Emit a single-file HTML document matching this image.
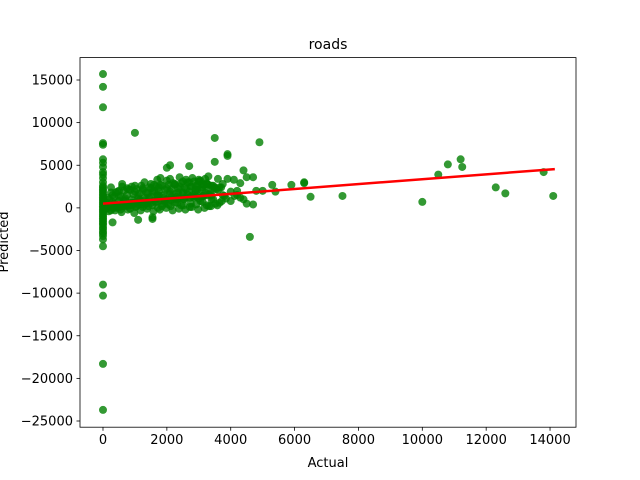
<!DOCTYPE html>
<html><head><meta charset="utf-8"><style>
body{margin:0;background:#fff;}
svg{display:block;font-family:"DejaVu Sans","Liberation Sans",sans-serif;}
</style></head><body>
<svg id="chart" width="640" height="480" viewBox="0 0 640 480">
<rect width="640" height="480" fill="#fff"/>
<text x="328" y="49" font-size="14" text-anchor="middle">roads</text>
<g id="plot"></g>
<g id="axes"></g>
<text x="328" y="467" font-size="13" text-anchor="middle">Actual</text>
<text x="0" y="0" font-size="13" text-anchor="middle" transform="translate(8,242) rotate(-90)">Predicted</text>
</svg>
<script>
const actual = [0,0,0,0,0,0,0,0,0,0,0,0,0,0,0,0,0,0,0,0,0,0,0,0,0,0,0,0,0,0,0,0,0,
0,0,0,0,0,0,0,0,0,0,0,0,0,0,
1000,3500,3900,3900,4900,3500,2700,2100,2000,4600,300,1100,1550,1550,10000,10500,10800,11200,11250,12300,12600,13800,14100,7500,6500,6300,6300,5900,5400,5300,5000,4700,4500,4400,4500,4700,4300,4200,4000,3900,4100,3600,3300,3200,3100,2900,1800,1600,4800,4400,4200,
150,250,350,450,550,650,750,850,950,1050,1150,1250,1350,1450,1550,1650,1750,1850,1950,2050,2150,2250,2350,2450,2550,2650,2750,2850,2950,3050,3150,3250,3350,3450,3550,3650,3750,3850,
200,300,400,500,600,700,800,900,1000,1100,1200,1300,1400,1500,1600,1700,1800,1900,2000,2100,2200,2300,2400,2500,2600,2700,2800,2900,3000,3100,3200,3300,3400,3600,3800,
180,380,580,780,980,1180,1380,1580,1780,1980,2180,2380,2580,2780,2980,3180,3380,3580,
250,500,750,1000,1250,1500,1750,2000,2250,2500,2750,3000,3250,3500,3750,4000,
120,420,620,820,1020,1220,1420,1720,1920,2120,2320,2520,2720,2920,3120,3320,3520,3720,4120,4300,
600,900,1300,1700,2100,2400,2600,2800,3000,3400,
100,300,500,700,900,1100,1300,1500,1700,1900,2100,2300,2500,2700,2900,3100,3300,3500,3700,
200,400,600,800,1000,1200,1400,1600,1800,2000,2200,2400,2600,2800,3000,3200,3400,
150,350,550,750,950,1150,1350,1550,1750,1950,2150,2350,2550,2750,2950,3150,
250,450,650,850,1050,1250,1450,1650,1850,2050,2250,2450,2650,2850,3050,3250,3450,3650,
120,320,520,720,920,1120,1320,1520,1720,1920,2120,2320,2520,2720,2920,3120,3320];
const predicted = [15700,14200,11800,7600,7400,5700,5300,4800,4200,3900,3500,3000,2600,2200,1800,1400,1000,600,200,-200,-600,-1000,-1400,-1800,-2300,-2800,-3300,-3700,-4500,-9000,-10300,-18300,-23700,
2400,2000,1600,1200,800,400,0,-400,-800,-1200,-1600,-2000,-2500,-3000,
8800,8200,6300,6100,7700,5400,4900,5000,4700,-3400,-1700,-1400,-1300,-1100,700,3900,5100,5700,4800,2400,1700,4200,1400,1400,1300,2900,3000,2700,1900,2700,2000,400,500,4400,3600,3600,2900,2000,800,3400,3300,3400,3700,3400,2800,2200,3500,2700,2000,1000,1500,
200,-300,500,100,-200,800,300,-100,600,200,900,100,500,1200,300,700,1500,200,900,400,1300,600,1800,300,1000,1600,500,1200,2100,800,1400,300,1700,1000,2200,600,1500,1100,
1000,1500,1800,1300,2500,1100,2200,600,1900,1400,2600,900,1700,2300,2000,1500,2700,1200,2300,1900,2900,1300,2500,1700,2200,3000,1500,2600,1100,2400,1800,2700,1000,2100,1400,
-400,-300,-500,-200,-600,-300,-100,-400,-200,0,-300,-100,-200,100,-200,0,200,300,
2400,2000,2300,2600,2100,2800,2400,3200,2700,3100,2500,3300,2900,2400,2800,1900,
0,0,200,300,100,400,200,0,500,200,600,300,100,400,700,200,500,800,1400,1200,
2800,2500,3000,3300,3400,3600,3300,3500,3100,2600,
600,700,800,900,1000,1100,1200,1300,1400,1500,1600,1700,1800,1900,2000,2100,2200,2300,2400,
300,400,450,550,600,700,750,850,900,1000,1050,1150,1200,1300,1350,1450,1500,
1200,1300,1400,1500,1600,1700,1800,1900,2000,2100,2200,2300,2400,2500,2600,2700,
1800,1900,2000,2100,2200,2300,2400,2500,2600,2700,2800,2900,3000,3100,3200,2800,2600,2400,
-100,0,100,200,300,400,500,600,700,800,900,1000,1100,1200,1300,1400,1500];
const xTicks = [0,2000,4000,6000,8000,10000,12000,14000];
const yTicks = [15000,10000,5000,0,-5000,-10000,-15000,-20000,-25000];
const fitLine = [[0,500],[14150,4550]];

const L=80,R=576,T=57.6,B=427.2;
const xMin=-720,xMax=14813,yMin=-25727,yMax=17628;
const sx=v=>L+(v-xMin)/(xMax-xMin)*(R-L);
const sy=v=>B-(v-yMin)/(yMax-yMin)*(B-T);
const NS='http://www.w3.org/2000/svg';
const plot=document.getElementById('plot'), axes=document.getElementById('axes');
function mk(tag,attrs,parent){const e=document.createElementNS(NS,tag);for(const k in attrs)e.setAttribute(k,attrs[k]);parent.appendChild(e);return e;}
for(let i=0;i<actual.length;i++){
  const c=mk('circle',{cx:sx(actual[i]),cy:sy(predicted[i]),r:4,fill:'#008000','fill-opacity':0.8},plot);
  
  
}
const ln=mk('line',{x1:sx(fitLine[0][0]),y1:sy(fitLine[0][1]),x2:sx(fitLine[1][0]),y2:sy(fitLine[1][1]),stroke:'#ff0000','stroke-width':2.5},plot);


const fr=mk('rect',{x:L,y:T,width:R-L,height:B-T,fill:'none',stroke:'#000','stroke-width':0.8},axes);


xTicks.forEach(v=>{
  const x=sx(v);
  const t=mk('line',{x1:x,y1:B,x2:x,y2:B+3.5,stroke:'#000','stroke-width':0.8},axes);
  
  
  const tx=mk('text',{x:x,y:B+17,'font-size':13,'text-anchor':'middle'},axes);
  tx.textContent=v;
  
  
});
yTicks.forEach(v=>{
  const y=sy(v);
  const t=mk('line',{x1:L-3.5,y1:y,x2:L,y2:y,stroke:'#000','stroke-width':0.8},axes);
  
  
  const tx=mk('text',{x:L-7,y:y+4.5,'font-size':13,'text-anchor':'end'},axes);
  tx.textContent=v<0?'\u2212'+(-v):v;
  
  
});
</script>
</body></html>
